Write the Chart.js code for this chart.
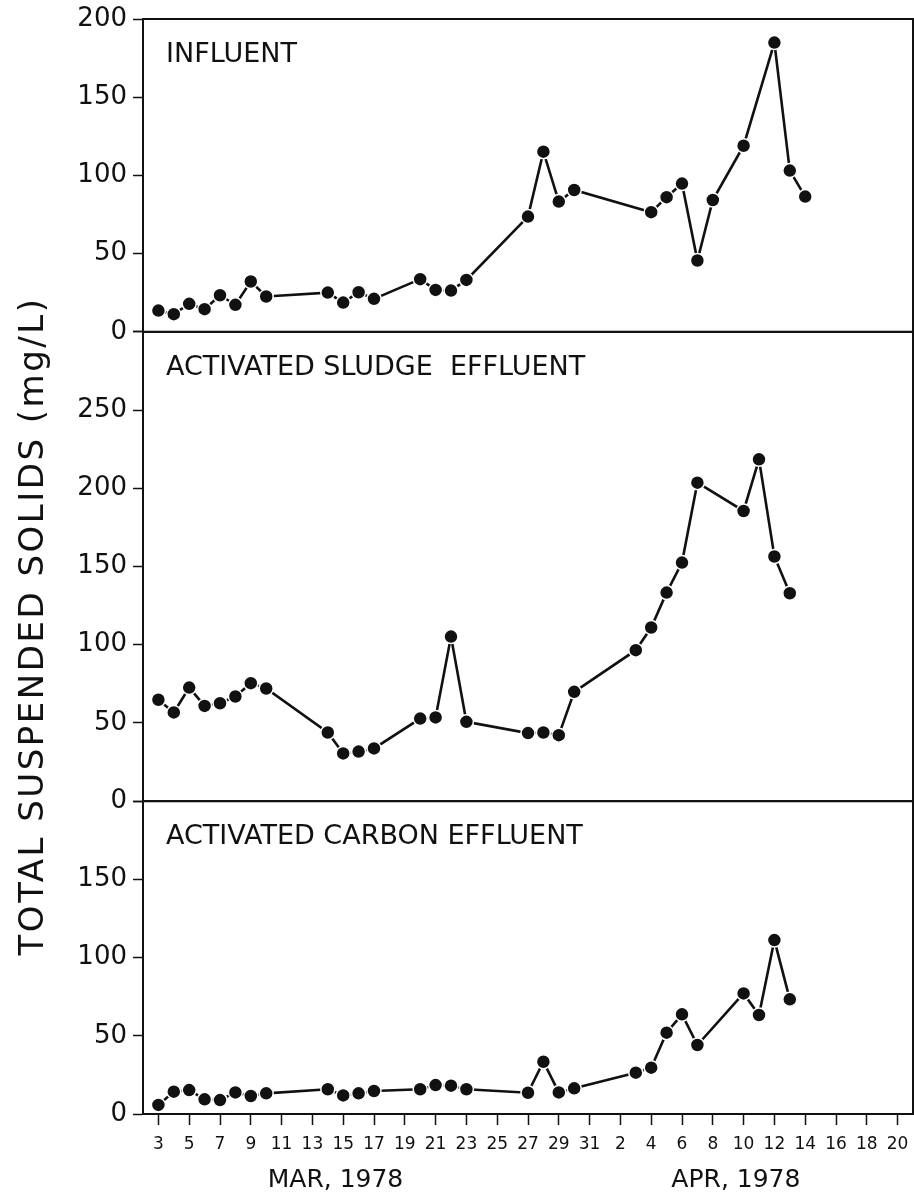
<!DOCTYPE html>
<html>
<head>
<meta charset="utf-8">
<script src="https://cdn.jsdelivr.net/npm/chart.js@4.4.1/dist/chart.umd.min.js"></script>
<style>
  html, body { margin: 0; padding: 0; background: #fff; }
  #wrap { position: relative; width: 914px; height: 1193px; }
</style>
</head>
<body>
<div id="wrap"><canvas id="tssChart" width="914" height="1193"></canvas></div>
<script>
// days counted from 1 March 1978 (day 32 = 1 April)
const influentDays = [3, 4, 5, 6, 7, 8, 9, 10, 14, 15, 16, 17, 20, 21, 22, 23, 27, 28, 29, 30, 35, 36, 37, 38, 39, 41, 43, 44, 45];
const influentTss = [13.6, 11.3, 17.9, 14.5, 23.4, 17.3, 32.2, 22.6, 25.1, 18.7, 25.3, 21.1, 33.7, 26.8, 26.4, 33.2, 73.7, 115.2, 83.3, 90.7, 76.5, 86.1, 94.8, 45.6, 84.3, 119.0, 184.9, 103.1, 86.5];

const sludgeDays = [3, 4, 5, 6, 7, 8, 9, 10, 14, 15, 16, 17, 20, 21, 22, 23, 27, 28, 29, 30, 34, 35, 36, 37, 38, 41, 42, 43, 44];
const sludgeTss = [64.8, 56.7, 72.6, 60.9, 62.6, 66.9, 75.4, 72.0, 43.9, 30.5, 31.7, 33.7, 52.8, 53.5, 105.2, 50.7, 43.5, 43.9, 42.2, 69.9, 96.5, 111.0, 133.3, 152.5, 203.6, 185.5, 218.5, 156.4, 132.9];

const carbonDays = [3, 4, 5, 6, 7, 8, 9, 10, 14, 15, 16, 17, 20, 21, 22, 23, 27, 28, 29, 30, 34, 35, 36, 37, 38, 41, 42, 43, 44];
const carbonTss = [5.8, 14.3, 15.3, 9.4, 8.9, 13.8, 11.5, 13.2, 15.8, 11.9, 13.2, 14.7, 15.8, 18.5, 18.1, 15.8, 13.6, 33.4, 13.8, 16.4, 26.4, 29.6, 52.0, 63.7, 44.1, 77.1, 63.3, 111.2, 73.3];

const tickDays = [3, 5, 7, 9, 11, 13, 15, 17, 19, 21, 23, 25, 27, 29, 31, 33, 35, 37, 39, 41, 43, 45, 47, 49, 51];
const tickLabels = ['3', '5', '7', '9', '11', '13', '15', '17', '19', '21', '23', '25', '27', '29', '31', '2', '4', '6', '8', '10', '12', '14', '16', '18', '20'];

const panelIds = ['yInfluent', 'ySludge', 'yCarbon'];
const panelLabels = ['INFLUENT', 'ACTIVATED SLUDGE  EFFLUENT', 'ACTIVATED CARBON EFFLUENT'];
const panelMax = [200, 300, 200];

const monthLabels = ['MAR, 1978', 'APR, 1978'];
const monthLabelDays = [14.5, 40.5];

const yTitle = 'TOTAL SUSPENDED SOLIDS (mg/L)';

const INK = '#111';
const FONT = "'DejaVu Sans', sans-serif";

function toPoints(days, values) {
  return days.map((d, i) => ({ x: d, y: values[i] }));
}

function lineSet(days, values, axisId) {
  return {
    data: toPoints(days, values),
    yAxisID: axisId,
    borderColor: INK,
    borderWidth: 2.6,
    tension: 0,
    pointRadius: 7,
    pointBackgroundColor: INK,
    pointBorderColor: '#fff',
    pointBorderWidth: 1.5,
    clip: false
  };
}

function panelAxis(index) {
  const max = panelMax[index];
  return {
    type: 'linear',
    position: 'left',
    stack: 'panels',
    stackWeight: max,
    weight: 3 - index,
    min: 0,
    max: max,
    grid: { drawOnChartArea: false, color: INK, tickLength: 10, tickWidth: 1.5 },
    border: { color: INK, width: 2 },
    ticks: {
      stepSize: 50,
      color: INK,
      padding: 6,
      font: { family: FONT, size: 26 },
      // the top value of the lower panels is left unlabelled
      callback: (v) => (index > 0 && v === max) ? '' : v
    },
    afterFit: (s) => {
      s.width = 143;
      s.paddingTop = 0;
      s.paddingBottom = 0;
    }
  };
}

// panel frames, panel names, month captions and the shared y title
const decorations = {
  id: 'decorations',
  afterDraw(chart) {
    const ctx = chart.ctx;
    const area = chart.chartArea;
    ctx.save();
    ctx.strokeStyle = INK;
    ctx.lineWidth = 2;
    ctx.fillStyle = INK;

    panelIds.forEach((id, i) => {
      const s = chart.scales[id];
      ctx.strokeRect(area.left, s.top, area.right - area.left, s.bottom - s.top);
      ctx.font = `27px ${FONT}`;
      ctx.textAlign = 'left';
      ctx.textBaseline = 'alphabetic';
      ctx.fillText(panelLabels[i], area.left + 23, s.top + 43);
    });

    const x = chart.scales.x;
    ctx.font = `25px ${FONT}`;
    ctx.textAlign = 'center';
    monthLabels.forEach((t, i) => {
      ctx.fillText(t, x.getPixelForValue(monthLabelDays[i]), 1187);
    });

    ctx.font = `34px ${FONT}`;
    ctx.letterSpacing = '2.5px';
    ctx.translate(43, 626);
    ctx.rotate(-Math.PI / 2);
    ctx.textAlign = 'center';
    ctx.fillText(yTitle, 0, 0);
    ctx.restore();
  }
};

const scales = {
  x: {
    type: 'linear',
    min: 2,
    max: 52,
    afterBuildTicks: (s) => { s.ticks = tickDays.map(v => ({ value: v })); },
    grid: { drawOnChartArea: false, color: INK, tickLength: 11, tickWidth: 1.5 },
    border: { color: INK, width: 2 },
    ticks: {
      autoSkip: false,
      maxRotation: 0,
      color: INK,
      padding: 9,
      font: { family: FONT, size: 17 },
      callback: (v) => tickLabels[tickDays.indexOf(v)]
    },
    afterFit: (s) => {
      s.height = 79;
      s.paddingLeft = 0;
      s.paddingRight = 0;
    }
  }
};
panelIds.forEach((id, i) => { scales[id] = panelAxis(i); });

new Chart(document.getElementById('tssChart'), {
  type: 'line',
  data: {
    datasets: [
      lineSet(influentDays, influentTss, 'yInfluent'),
      lineSet(sludgeDays, sludgeTss, 'ySludge'),
      lineSet(carbonDays, carbonTss, 'yCarbon')
    ]
  },
  options: {
    responsive: false,
    devicePixelRatio: 1,
    animation: false,
    layout: { autoPadding: false, padding: { top: 19, right: 1, left: 0, bottom: 0 } },
    plugins: { legend: { display: false }, tooltip: { enabled: false } },
    scales: scales
  },
  plugins: [decorations]
});
</script>
</body>
</html>
